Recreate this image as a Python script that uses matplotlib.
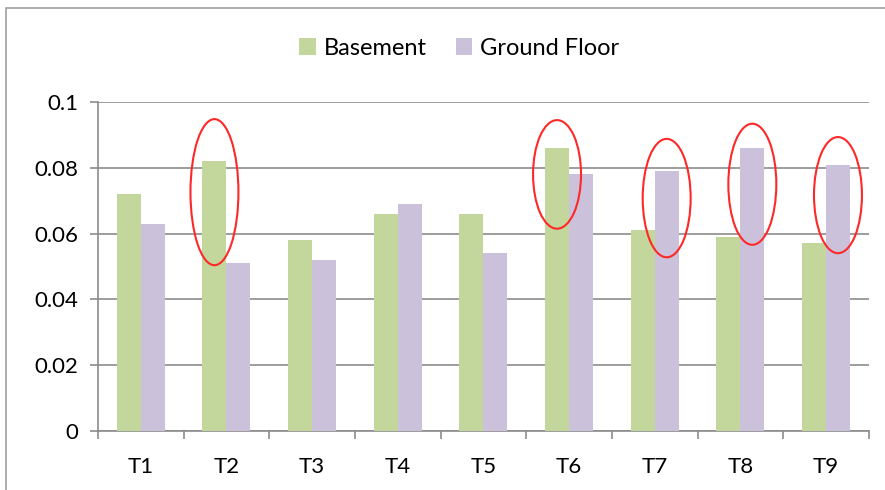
import numpy as np
import matplotlib.pyplot as plt
from matplotlib.patches import Ellipse, Rectangle

plt.rcParams['font.family'] = ['Lato', 'DejaVu Sans']

categories = ['T1', 'T2', 'T3', 'T4', 'T5', 'T6', 'T7', 'T8', 'T9']
basement = [0.072, 0.082, 0.058, 0.066, 0.066, 0.086, 0.061, 0.059, 0.057]
ground_floor = [0.063, 0.051, 0.052, 0.069, 0.054, 0.078, 0.079, 0.086, 0.081]

# highlighted bars: (category index, series, ellipse centre y, ellipse height)
highlights = [(1, 'basement', 0.0726, 0.0444),
              (5, 'basement', 0.078, 0.033),
              (6, 'ground', 0.0708, 0.036),
              (7, 'ground', 0.075, 0.0368),
              (8, 'ground', 0.0717, 0.0353)]

green = '#C3D69B'
purple = '#CCC1DA'
grid_col = '#8C8C8C'

fig = plt.figure(figsize=(8.85, 4.9), dpi=100)
ax = fig.add_axes([0.1107, 0.1204, 0.871, 0.6714])

x = np.arange(len(categories))
w = 0.28
ax.bar(x - w / 2, basement, w, color=green, label='Basement', zorder=3)
ax.bar(x + w / 2, ground_floor, w, color=purple, label='Ground Floor', zorder=3)

for i, series, cy, h in highlights:
    cx = x[i] - w / 2 if series == 'basement' else x[i] + w / 2
    ax.add_patch(Ellipse((cx, cy), 0.56, h, fill=False, edgecolor='#FF2828',
                         linewidth=1.5, zorder=4, clip_on=False))

ax.set_xlim(-0.5, len(categories) - 0.5)
ax.set_ylim(0, 0.1)
ax.set_yticks([0, 0.02, 0.04, 0.06, 0.08, 0.1])
ax.set_yticklabels(['0', '0.02', '0.04', '0.06', '0.08', '0.1'])
ax.yaxis.grid(True, color=grid_col, linewidth=1.2, zorder=0)

ax.set_xticks(np.arange(len(categories) + 1) - 0.5)
ax.set_xticklabels([])
ax.set_xticks(x, minor=True)
ax.set_xticklabels(categories, minor=True)
ax.tick_params(axis='x', which='major', length=6, color=grid_col, width=1.2)
ax.tick_params(axis='x', which='minor', length=0, labelsize=16, pad=19)
ax.tick_params(axis='y', length=6, color=grid_col, width=1.2, labelsize=16, pad=8)

for s in ['top', 'right']:
    ax.spines[s].set_visible(False)
for s in ['left', 'bottom']:
    ax.spines[s].set_color(grid_col)
    ax.spines[s].set_linewidth(1.2)

ax.legend(loc='center', bbox_to_anchor=(0.469, 1.164), ncol=2, frameon=False,
          fontsize=17, handlelength=0.7, handleheight=0.7, handletextpad=0.35,
          columnspacing=1.2)

# outer chart border (left and top visible)
fig.add_artist(Rectangle((6 / 885, -0.05), 1.2, 1 - 8 / 490 + 0.05, transform=fig.transFigure,
                         fill=False, edgecolor='#A0A0A0', linewidth=1.2))

fig.savefig('out.png', dpi=100)
